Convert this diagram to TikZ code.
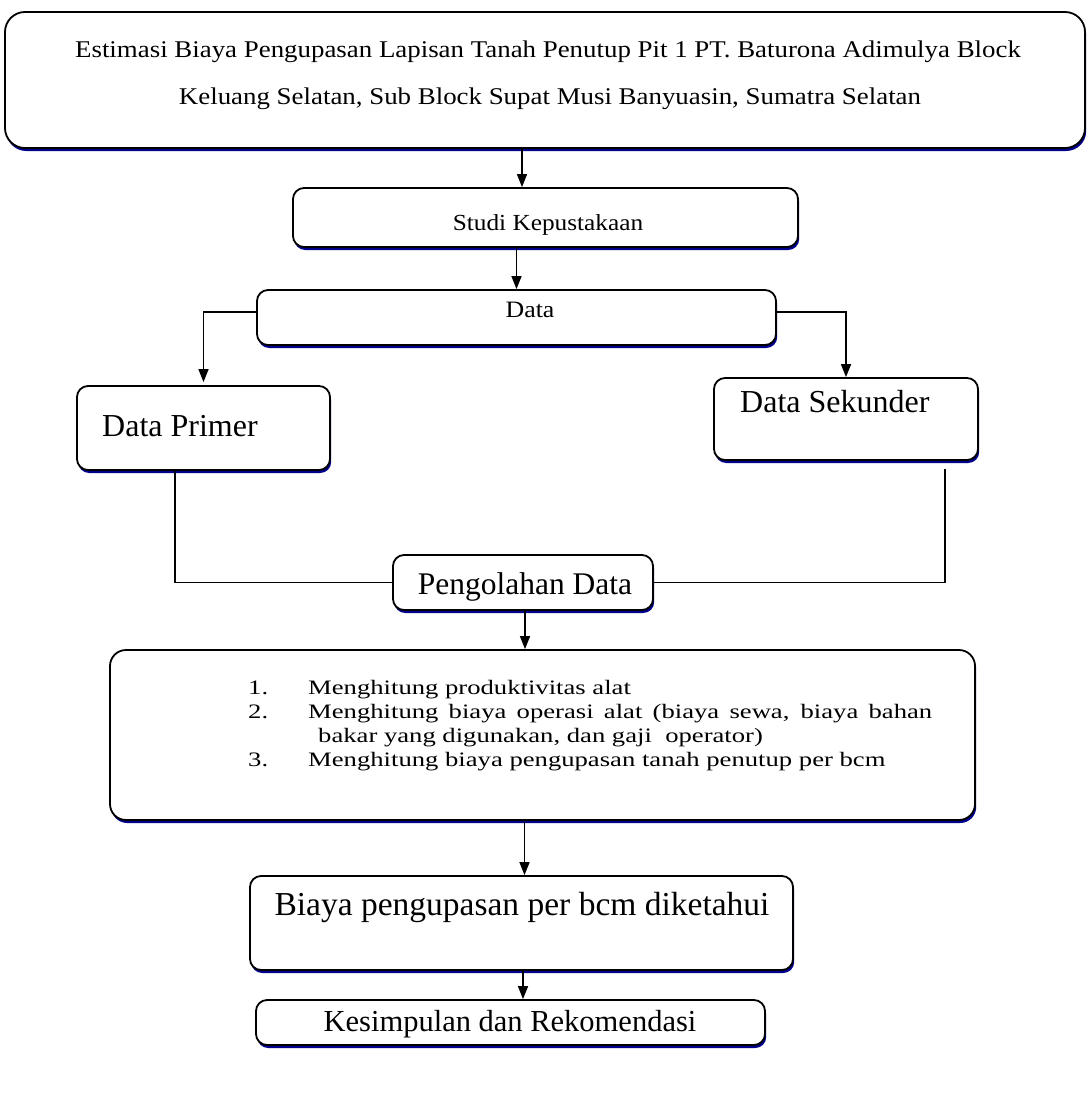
\documentclass[tikz,border=0pt]{standalone}
\usepackage{fontspec}
\setmainfont{Liberation Serif}
\newfontfamily\hurufjudul[FakeStretch=1.12]{Liberation Serif}
\newfontfamily\hurufsempit[FakeStretch=1.1]{Liberation Serif}
\newfontfamily\hurufdaftar[FakeStretch=1.3]{Liberation Serif}
\usetikzlibrary{arrows.meta,positioning,shadows}

\begin{document}
\begin{tikzpicture}[
    x=1pt, y=-1pt,
    box/.style={rectangle, draw=black, line width=1.8pt, fill=white, rounded corners=11pt,
                inner sep=0pt,
                drop shadow={shadow xshift=1.2pt, shadow yshift=-3pt, fill=blue!55!black, opacity=1}},
    teks/.style={anchor=base, inner sep=0pt, font=\fontsize{32}{36}\selectfont},
    arr/.style={-{Triangle[length=13pt,width=10pt]}, line width=1.5pt, draw=black},
    line/.style={line width=1.4pt, draw=black},
  ]
  \path[use as bounding box, fill=white] (0,0) rectangle (1090,1097);

  % judul
  \node[box, rounded corners=20pt, minimum width=1080pt, minimum height=136pt] (judul) at (545,80) {};
  \node[teks, font=\hurufjudul\fontsize{24}{28}\selectfont] (judul1) at (548,58)
    {Estimasi Biaya Pengupasan Lapisan Tanah Penutup Pit 1 PT. Baturona Adimulya Block};
  \node[teks, font=\hurufjudul\fontsize{24}{28}\selectfont] (judul2) at (550,105)
    {Keluang Selatan, Sub Block Supat Musi Banyuasin, Sumatra Selatan};

  \node[box, minimum width=505pt, minimum height=59pt] (studi) at (545.5,217.5) {};
  \node[teks, font=\hurufsempit\fontsize{23}{28}\selectfont] (studitxt) at (548,230) {Studi Kepustakaan};
  \node[box, minimum width=519pt, minimum height=55pt] (data) at (516.5,317.5) {};
  \node[teks, font=\hurufsempit\fontsize{23.5}{28}\selectfont] (datatxt) at (530,317) {Data};

  % data primer dan sekunder
  \node[box, minimum width=253pt, minimum height=84pt] (primer) at (203.5,428) {};
  \node[teks, anchor=base west] (primertxt) at (102,436) {Data Primer};
  \node[box, minimum width=264pt, minimum height=82pt] (sekunder) at (846,419) {};
  \node[teks, anchor=base west] (sekundertxt) at (740,412) {Data Sekunder};

  \node[box, minimum width=260pt, minimum height=55pt] (olah) at (523,582.5) {};
  \node[teks, font=\fontsize{31.5}{36}\selectfont] (olahtxt) at (525,594) {Pengolahan Data};

  % perhitungan
  \node[box, rounded corners=16pt, minimum width=865pt, minimum height=170pt] (hitung) at (542.5,735) {};
  \node[anchor=base west, inner sep=0pt, font=\hurufdaftar\fontsize{20.5}{24}\selectfont] (daftar) at (248,694)
    {\begin{tabular}[t]{@{}p{60pt}@{}l@{}}
      1. & Menghitung produktivitas alat\\
      2. & \makebox[624pt][s]{Menghitung biaya operasi alat (biaya sewa, biaya bahan}\\
         & \hspace{10pt}bakar yang digunakan, dan gaji~ operator)\\
      3. & Menghitung biaya pengupasan tanah penutup per bcm
    \end{tabular}};

  \node[box, minimum width=543pt, minimum height=94pt] (biaya) at (521.5,923) {};
  \node[teks, font=\fontsize{33.5}{38}\selectfont] (biayatxt) at (522,915) {Biaya pengupasan per bcm diketahui};
  \node[box, minimum width=509pt, minimum height=45pt] (simpul) at (510.5,1022.5) {};
  \node[teks, font=\fontsize{30.5}{36}\selectfont] (simpultxt) at (510,1031) {Kesimpulan dan Rekomendasi};

  % panah
  \draw[arr] ([xshift=-23pt]judul.south) -- ([xshift=-23pt]judul.south |- studi.north);
  \draw[arr] (data.north |- studi.south) -- (data.north);
  \draw[arr] ([yshift=5.5pt]data.west) -| ([yshift=3pt]primer.north);
  \draw[arr] ([yshift=5.5pt]data.east) -| (sekunder.north);
  \draw[line] ([xshift=-28.5pt]primer.south) |- (olah.west);
  \draw[line] ([xshift=99pt,yshift=-8pt]sekunder.south) |- (olah.east);
  \draw[arr] ([xshift=2pt]olah.south) -- ([xshift=2pt]olah.south |- hitung.north);
  \draw[arr] ([xshift=3pt]biaya.north |- hitung.south) -- ([xshift=3pt]biaya.north);
  \draw[arr] ([xshift=1.5pt]biaya.south) -- ([xshift=1.5pt]biaya.south |- simpul.north);
\end{tikzpicture}
\end{document}
